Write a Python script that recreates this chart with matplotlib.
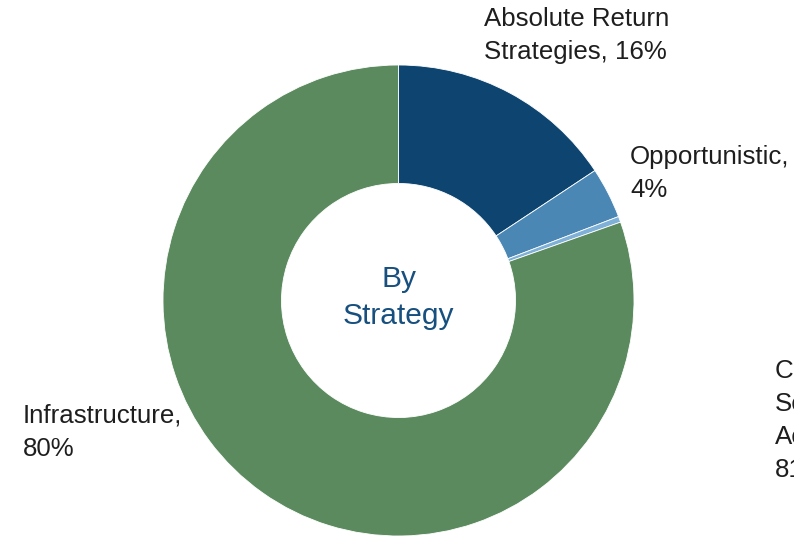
import matplotlib
matplotlib.use("Agg")
import matplotlib.pyplot as plt

categories = ["Absolute Return Strategies", "Opportunistic", "Co-Investments", "Infrastructure"]
values = [15.7, 3.5, 0.4, 80.4]
label_texts = ["Absolute Return\nStrategies, 16%", "Opportunistic,\n4%", "Cu\nSe\nAc\n81", "Infrastructure,\n80%"]
colors = ["#0d4470", "#4a87b5", "#7fb0d8", "#5b8a5e"]

W, H = 794, 536
fig = plt.figure(figsize=(W / 100, H / 100), dpi=100)
ax = fig.add_axes([0, 0, 1, 1])

cx, cy, R = 398.5, H - 300.5, 235.5
ax.pie(values, colors=colors, startangle=90, counterclock=False,
       center=(cx, cy), radius=R, frame=True,
       wedgeprops=dict(width=R * 0.503, edgecolor="white", linewidth=0.6))
ax.set_xlim(0, W)
ax.set_ylim(0, H)
ax.set_aspect("equal")
ax.axis("off")

font = "Liberation Sans"
fs = 18.6
ls = 1.47
pos = [(484, 7), (630, 145), (775, 359), (23, 404)]
for txt, (x, y) in zip(label_texts, pos):
    ax.text(x, H - y, txt, ha="left", va="top", fontsize=fs, family=font,
            color="#1e1e1e", linespacing=ls, clip_on=False)

ax.text(cx, H - 265, "By\nStrategy", ha="center", va="top", fontsize=21.5,
        family=font, color="#174f7e", linespacing=1.4)

fig.savefig("out.png", dpi=100)
